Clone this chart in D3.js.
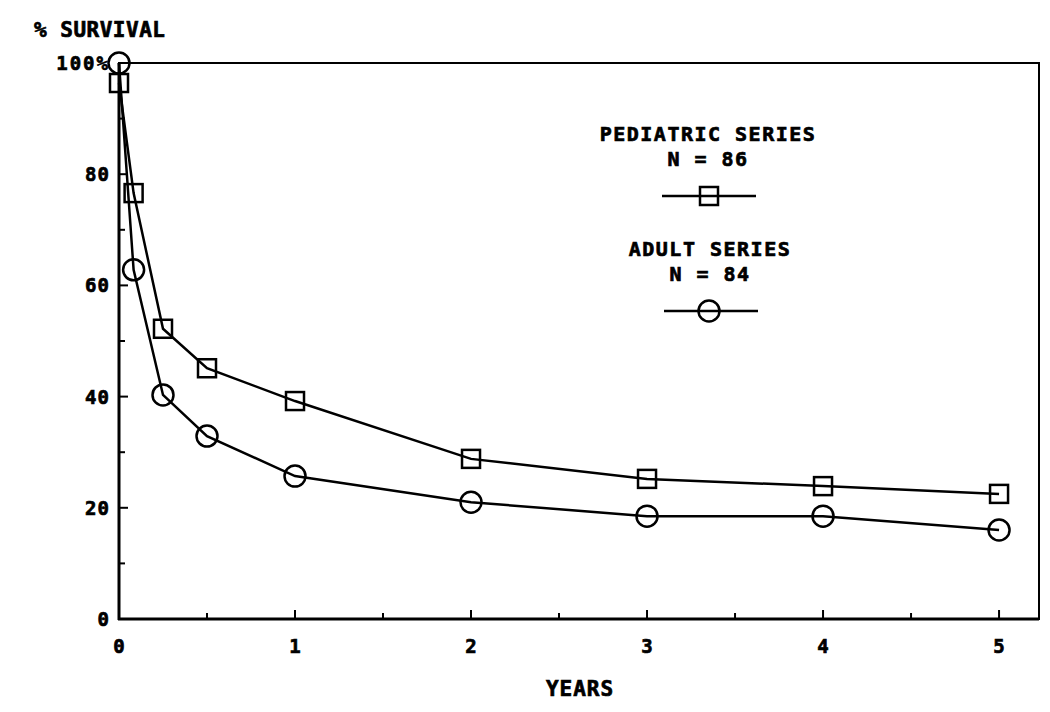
<!DOCTYPE html>
<meta charset="utf-8">
<html>
<script src="https://d3js.org/d3.v7.min.js"></script>
<style>
  body { margin: 0; background: #fff; }
  text { font-family: "DejaVu Sans Mono", monospace; font-weight: bold; fill: #000; stroke: #000; stroke-width: 0.7px; }
</style>
<body>
<div id="chart"></div>
<script>
    // survival data (years, % surviving)
    const years = [0, 0.083, 0.25, 0.5, 1, 2, 3, 4, 5];
    const pediatric = [96.4, 76.6, 52.2, 45.1, 39.2, 28.8, 25.2, 23.9, 22.5];
    const adult = [100, 62.8, 40.3, 32.9, 25.7, 21.0, 18.5, 18.5, 16.0];
    const xTickLabels = ["0", "1", "2", "3", "4", "5"];
    const yTickLabels = ["0", "20", "40", "60", "80", "100%"];

    const width = 1050, height = 712;
    const pLeft = 119, pRight = 1039, pTop = 63, pBottom = 619;

    const svg = d3.select("#chart").append("svg")
        .attr("width", width)
        .attr("height", height);

    const x = d3.scaleLinear().domain([0, 5.227]).range([pLeft, pRight]);
    const y = d3.scaleLinear().domain([0, 100]).range([pBottom, pTop]);

    // frame
    svg.append("rect")
        .attr("x", pLeft).attr("y", pTop)
        .attr("width", pRight - pLeft).attr("height", pBottom - pTop)
        .attr("fill", "none").attr("stroke", "#000").attr("stroke-width", 2);
    svg.append("line").attr("x1", pLeft).attr("x2", pLeft).attr("y1", pTop).attr("y2", pBottom + 1)
        .attr("stroke", "#000").attr("stroke-width", 3);
    svg.append("line").attr("x1", pLeft - 1).attr("x2", pRight).attr("y1", pBottom).attr("y2", pBottom)
        .attr("stroke", "#000").attr("stroke-width", 3);

    // ticks, pointing inward
    const xt = d3.range(0.5, 5.01, 0.5);
    svg.selectAll(".xtick").data(xt).join("line")
        .attr("x1", d => x(d)).attr("x2", d => x(d))
        .attr("y1", pBottom).attr("y2", d => pBottom - (d % 1 === 0 ? 9 : 6))
        .attr("stroke", "#000").attr("stroke-width", 2);
    const yt = d3.range(10, 91, 10);
    svg.selectAll(".ytick").data(yt).join("line")
        .attr("x1", pLeft).attr("x2", d => pLeft + (d % 20 === 0 ? 9 : 6))
        .attr("y1", d => y(d)).attr("y2", d => y(d))
        .attr("stroke", "#000").attr("stroke-width", 2);

    // tick labels
    svg.selectAll(".xlab").data(xTickLabels).join("text")
        .attr("x", (d, i) => x(i)).attr("y", 653)
        .attr("text-anchor", "middle").style("font-size", "19px")
        .text(d => d);
    svg.selectAll(".ylab").data(yTickLabels).join("text")
        .attr("x", 110).attr("y", (d, i) => y(i * 20) + 7)
        .attr("text-anchor", "end").style("font-size", "19px")
        .style("letter-spacing", (d, i) => i === 5 ? "2px" : "1px")
        .text(d => d);

    // titles
    svg.append("text").attr("x", 34).attr("y", 37)
        .style("font-size", "21px").style("letter-spacing", "0.5px")
        .text("% SURVIVAL");
    svg.append("text").attr("x", 580).attr("y", 696)
        .attr("text-anchor", "middle").style("font-size", "21px").style("letter-spacing", "1px")
        .text("YEARS");

    // series
    const line = d3.line().x(d => x(d[0])).y(d => y(d[1]));
    const pedPts = years.map((t, i) => [t, pediatric[i]]);
    const adPts = years.map((t, i) => [t, adult[i]]);

    [pedPts, adPts].forEach(pts => {
        svg.append("path").datum(pts)
            .attr("d", line)
            .attr("fill", "none").attr("stroke", "#000").attr("stroke-width", 2.5);
    });

    svg.selectAll(".sq").data(pedPts).join("rect")
        .attr("x", d => x(d[0]) - 9).attr("y", d => y(d[1]) - 9)
        .attr("width", 18).attr("height", 18)
        .attr("fill", "none").attr("stroke", "#000").attr("stroke-width", 2.5);
    svg.selectAll(".ci").data(adPts).join("circle")
        .attr("cx", d => x(d[0])).attr("cy", d => y(d[1]))
        .attr("r", 10.5)
        .attr("fill", "none").attr("stroke", "#000").attr("stroke-width", 2.5);

    // legend
    const lg = svg.append("g");
    lg.append("text").attr("x", 708).attr("y", 141).attr("text-anchor", "middle")
        .style("font-size", "20px").style("letter-spacing", "1.5px").text("PEDIATRIC SERIES");
    lg.append("text").attr("x", 708).attr("y", 166).attr("text-anchor", "middle")
        .style("font-size", "20px").style("letter-spacing", "1.5px").text("N = 86");
    lg.append("line").attr("x1", 662).attr("x2", 756).attr("y1", 196).attr("y2", 196)
        .attr("stroke", "#000").attr("stroke-width", 2.5);
    lg.append("rect").attr("x", 700).attr("y", 187).attr("width", 18).attr("height", 18)
        .attr("fill", "none").attr("stroke", "#000").attr("stroke-width", 2.5);

    lg.append("text").attr("x", 710).attr("y", 256).attr("text-anchor", "middle")
        .style("font-size", "20px").style("letter-spacing", "1.5px").text("ADULT SERIES");
    lg.append("text").attr("x", 710).attr("y", 281).attr("text-anchor", "middle")
        .style("font-size", "20px").style("letter-spacing", "1.5px").text("N = 84");
    lg.append("line").attr("x1", 664).attr("x2", 758).attr("y1", 311).attr("y2", 311)
        .attr("stroke", "#000").attr("stroke-width", 2.5);
    lg.append("circle").attr("cx", 709).attr("cy", 311).attr("r", 10.5)
        .attr("fill", "none").attr("stroke", "#000").attr("stroke-width", 2.5);
</script>
</body>
</html>
